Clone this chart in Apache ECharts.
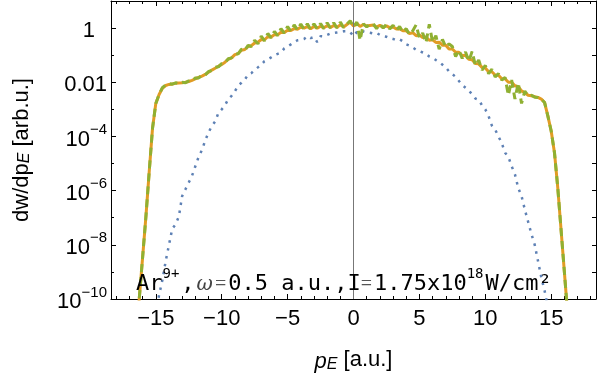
<!DOCTYPE html>
<html>
<head>
<meta charset="utf-8">
<script src="https://cdn.jsdelivr.net/npm/echarts@6/dist/echarts.min.js"></script>
<style>html,body{margin:0;padding:0;background:#fff}#main{width:600px;height:378px}</style>
</head>
<body>
<div id="main"></div>
<script>
var dom = document.getElementById("main");
var myChart = echarts.init(dom);

// momentum grid p_E [a.u.]
var pE = [-16.5,
  -16.25, -16, -15.75, -15.5, -15.25, -15, -14.75, -14.5, -14.25, -14, -13.75, -13.5,
  -13.25, -13, -12.75, -12.5, -12.25, -12, -11.75, -11.5, -11.25, -11, -10.75, -10.5,
  -10.25, -10, -9.75, -9.5, -9.25, -9, -8.75, -8.5, -8.25, -8, -7.75, -7.5,
  -7.25, -7, -6.75, -6.5, -6.25, -6, -5.75, -5.5, -5.25, -5, -4.75, -4.5,
  -4.25, -4, -3.75, -3.5, -3.25, -3, -2.75, -2.5, -2.25, -2, -1.75, -1.5,
  -1.25, -1, -0.75, -0.5, -0.25, 0, 0.25, 0.5, 0.75, 1, 1.25, 1.5,
  1.75, 2, 2.25, 2.5, 2.75, 3, 3.25, 3.5, 3.75, 4, 4.25, 4.5,
  4.75, 5, 5.25, 5.5, 5.75, 6, 6.25, 6.5, 6.75, 7, 7.25, 7.5,
  7.75, 8, 8.25, 8.5, 8.75, 9, 9.25, 9.5, 9.75, 10, 10.25, 10.5,
  10.75, 11, 11.25, 11.5, 11.75, 12, 12.25, 12.5, 12.75, 13, 13.25, 13.5,
  13.75, 14, 14.25, 14.5, 14.75, 15, 15.25, 15.5, 15.75, 16, 16.25, 16.5];

// log10(dw/dp_E)
var blueExp = [-14.0, -13.4, -13.0, -12.3, -11.7, -11.1, -10.5, -9.85, -9.3, -8.6, -8.0, -7.4,
  -7.25, -6.95, -6.2, -5.95, -5.7, -5.45, -5.1, -4.75, -4.5, -4.15, -3.85, -3.62,
  -3.45, -3.13, -3.0, -2.85, -2.62, -2.5, -2.33, -2.12, -2.02, -1.9, -1.72, -1.66,
  -1.55, -1.45, -1.35, -1.22, -1.15, -1.08, -1.0, -0.95, -0.9, -0.75, -0.68, -0.6,
  -0.52, -0.45, -0.43, -0.4, -0.3, -0.37, -0.33, -0.52, -0.3, -0.31, -0.25, -0.2,
  -0.18, -0.16, -0.14, -0.12, -0.12, -0.15, -0.3, -0.15, -0.2, -0.12, -0.15, -0.17,
  -0.2, -0.18, -0.25, -0.3, -0.32, -0.37, -0.4, -0.45, -0.42, -0.49, -0.6, -0.65,
  -0.72, -0.8, -0.85, -0.9, -0.95, -1.05, -1.1, -1.18, -1.25, -1.35, -1.45, -1.6,
  -1.7, -1.8, -1.95, -2.1, -2.2, -2.3, -2.45, -2.6, -2.65, -2.85, -3.0, -3.25,
  -3.6, -3.75, -4.0, -4.25, -4.6, -4.75, -5.1, -5.4, -5.9, -6.2, -6.7, -7.15,
  -7.6, -8.0, -8.6, -9.2, -9.7, -10.3, -10.9, -11.5, -12.1, -12.7, -13.3, -13.9, -14.5];

var orangeExp = [-11.4, -9.95, -8.45, -6.95, -5.3, -3.7, -2.78, -2.45, -2.22, -2.12, -2.08, -2.06,
  -2.04, -2.03, -2.02, -2.0, -1.97, -1.93, -1.87, -1.82, -1.77, -1.71, -1.63, -1.55,
  -1.48, -1.41, -1.34, -1.26, -1.15, -1.1, -0.98, -0.94, -0.82, -0.79, -0.68, -0.65,
  -0.55, -0.52, -0.42, -0.43, -0.32, -0.33, -0.24, -0.25, -0.15, -0.16, -0.08, -0.09,
  -0.02, -0.04, 0.03, 0.0, 0.05, -0.02, 0.06, 0.0, 0.07, 0.01, 0.09, 0.02,
  0.1, 0.03, 0.12, 0.04, 0.13, 0.22, 0.08, 0.17, 0.06, 0.13, 0.08, 0.1,
  0.11, 0.04, 0.1, 0.03, 0.08, 0.02, 0.04, -0.03, -0.02, -0.1, -0.1, -0.2,
  -0.17, -0.28, -0.25, -0.35, -0.33, -0.45, -0.43, -0.53, -0.52, -0.63, -0.63, -0.77,
  -0.77, -0.89, -0.89, -1.01, -1.01, -1.15, -1.17, -1.31, -1.32, -1.45, -1.47, -1.61,
  -1.61, -1.73, -1.74, -1.87, -1.87, -2.0, -2.0, -2.13, -2.16, -2.32, -2.38, -2.48,
  -2.5, -2.53, -2.56, -2.62, -2.75, -3.25, -3.8, -4.6, -5.9, -7.45, -9.0, -10.55, -12.1];

var greenExp = [-11.4, -9.95, -8.45, -6.95, -5.3, -3.7, -2.78, -2.45, -2.2, -2.1, -2.05, -2.07,
  -2.02, -2.05, -2.0, -2.02, -1.95, -1.95, -1.84, -1.84, -1.74, -1.73, -1.6, -1.57,
  -1.45, -1.43, -1.31, -1.28, -1.13, -1.1, -0.96, -0.95, -0.78, -0.82, -0.64, -0.68,
  -0.45, -0.58, -0.3, -0.47, -0.2, -0.36, -0.12, -0.28, -0.02, -0.19, 0.06, -0.12,
  0.12, -0.07, 0.15, -0.04, 0.16, -0.05, 0.16, -0.03, 0.17, -0.02, 0.2, 0.0,
  0.2, 0.0, 0.22, 0.02, 0.15, 0.27, 0.04, 0.22, -0.45, 0.16, 0.04, 0.15,
  0.16, -0.02, 0.15, 0.0, 0.14, -0.03, 0.1, -0.08, 0.06, -0.15, -0.02, -0.24,
  -0.1, 0.12, -0.36, -0.18, -0.54, 0.14, -0.52, -0.28, -0.78, -0.42, -0.7, -0.58,
  -0.68, -1.05, -0.82, -1.12, -0.88, -1.22, -0.86, -1.38, -1.18, -1.55, -1.38, -1.68,
  -1.52, -1.8, -1.68, -1.92, -1.82, -2.48, -1.92, -2.62, -2.02, -2.78, -2.33, -2.5,
  -2.48, -2.55, -2.56, -2.62, -2.75, -3.25, -3.8, -4.6, -5.9, -7.45, -9.0, -10.55, -12.1];

var xMajor = [-15, -10, -5, 0, 5, 10, 15];
var xMinor = [-18, -17, -16, -14, -13, -12, -11, -9, -8, -7, -6, -4, -3, -2, -1,
  1, 2, 3, 4, 6, 7, 8, 9, 11, 12, 13, 14, 16, 17, 18];
var yMajor = [-10, -8, -6, -4, -2, 0];
var yMinor = [-9, -7, -5, -3, -1];

var font = 'Liberation Sans, Arial, sans-serif';
var mono = 'DejaVu Sans Mono, monospace';

function pairs(ys) {
    return pE.map(function (x, i) { return [x, ys[i]]; });
}

function xAxisDef(pos, ticks, len, withLabel) {
    return {
        type: 'value', position: pos, min: -18.4, max: 18.4,
        axisLine: { show: withLabel !== null, onZero: false, lineStyle: { color: '#000', width: 1 } },
        axisTick: { show: true, inside: true, length: len, customValues: ticks, lineStyle: { color: '#000' } },
        axisLabel: withLabel ? {
            show: true, customValues: ticks, margin: 9, color: '#000',
            fontFamily: font, fontSize: 22,
            formatter: function (v) { return v < 0 ? '\u2212' + (-v) : '' + v; }
        } : { show: false },
        splitLine: { show: false }
    };
}

function yAxisDef(pos, ticks, len, withLabel) {
    return {
        type: 'value', position: pos, min: -10, max: 1,
        axisLine: { show: withLabel !== null, onZero: false, lineStyle: { color: '#000', width: 1 } },
        axisTick: { show: true, inside: true, length: len, customValues: ticks, lineStyle: { color: '#000' } },
        axisLabel: withLabel ? {
            show: true, customValues: ticks, margin: 4, color: '#000',
            fontFamily: font, fontSize: 22,
            formatter: function (v) {
                if (v === 0) return '{one|1}';
                if (v === -2) return '{b|0.01}';
                return '{b|10}{s|\u2212' + (-v) + '}';
            },
            rich: {
                one: { fontFamily: font, fontSize: 22, lineHeight: 28, padding: [0, 12, 0, 0], verticalAlign: 'bottom' },
                b: { fontFamily: font, fontSize: 22, lineHeight: 28, verticalAlign: 'bottom' },
                s: { fontFamily: font, fontSize: 15, lineHeight: 15, verticalAlign: 'top' }
            }
        } : { show: false },
        splitLine: { show: false }
    };
}

var xAxes = [
    xAxisDef('bottom', xMajor, 5, true),
    xAxisDef('bottom', xMinor, 3, null),
    xAxisDef('top', xMajor, 5, false),
    xAxisDef('top', xMinor, 3, null)
];
xAxes[0].name = '{p|p}{e|E} [a.u.]';
xAxes[0].nameLocation = 'middle';
xAxes[0].nameGap = 48;
xAxes[0].nameTextStyle = {
    fontFamily: font, fontSize: 22, color: '#000',
    rich: {
        p: { fontFamily: font, fontSize: 22, fontStyle: 'italic', lineHeight: 26, verticalAlign: 'bottom' },
        e: { fontFamily: font, fontSize: 16, fontStyle: 'italic', lineHeight: 16, verticalAlign: 'bottom' }
    }
};

var yAxes = [
    yAxisDef('left', yMajor, 5, true),
    yAxisDef('left', yMinor, 3, null),
    yAxisDef('right', yMajor.concat(yMinor), 4, false)
];
yAxes[0].name = 'dw/dp{e|E} [arb.u.]';
yAxes[0].nameLocation = 'middle';
yAxes[0].nameRotate = 90;
yAxes[0].nameGap = 78;
yAxes[0].nameTextStyle = {
    fontFamily: font, fontSize: 22, color: '#000',
    rich: {
        e: { fontFamily: font, fontSize: 16, fontStyle: 'italic', lineHeight: 16, verticalAlign: 'bottom' }
    }
};

var option = {
    animation: false,
    backgroundColor: '#fff',
    grid: { left: 111, right: 4, top: 1, bottom: 78, containLabel: false },
    title: {
        text: '{m|Ar}{sup|9+}{m|,}{w|\u03c9}{eq|=}{m|0.5 a.u.,I}{eq|=}{m|1.75x10}{sup|18}{m|W/cm\u00b2}',
        left: 136, top: 262, padding: 0,
        textStyle: {
            fontWeight: 'normal',
            rich: {
                m: { fontFamily: mono, fontSize: 22, fontWeight: 'normal', lineHeight: 33, color: '#000', verticalAlign: 'bottom' },
                sup: { fontFamily: mono, fontSize: 14, fontWeight: 'normal', lineHeight: 14, color: '#000', verticalAlign: 'top', padding: [5, 2, 0, 0] },
                w: { fontFamily: 'DejaVu Serif, serif', fontStyle: 'italic', fontWeight: 'normal', fontSize: 20, lineHeight: 33, color: '#444', verticalAlign: 'bottom', padding: [0, 2, 0, 2] },
                eq: { fontFamily: 'Liberation Serif, serif', fontSize: 20, fontWeight: 'normal', lineHeight: 33, color: '#555', verticalAlign: 'bottom', padding: [0, 2, 0, 0] }
            }
        }
    },
    xAxis: xAxes,
    yAxis: yAxes,
    series: [{
        type: 'line', name: 'blue', data: pairs(blueExp), showSymbol: false, symbol: 'none',
        lineStyle: { color: '#5e81b5', width: 2.5, type: [2.5, 5.5] },
        markLine: {
            silent: true, symbol: 'none', label: { show: false },
            lineStyle: { color: '#777', width: 1, type: 'solid' },
            data: [{ xAxis: 0 }]
        }
    }, {
        type: 'line', name: 'orange', data: pairs(orangeExp), showSymbol: false, symbol: 'none',
        lineStyle: { color: '#e19c24', width: 3 }
    }, {
        type: 'line', name: 'green', data: pairs(greenExp), showSymbol: false, symbol: 'none',
        lineStyle: { color: '#8fb032', width: 3, type: [8, 5] }
    }]
};
if (option && typeof option === "object") {
    myChart.setOption(option, true);
}
window.addEventListener("resize", function () {
    myChart.resize();
});
</script>
</body>
</html>
